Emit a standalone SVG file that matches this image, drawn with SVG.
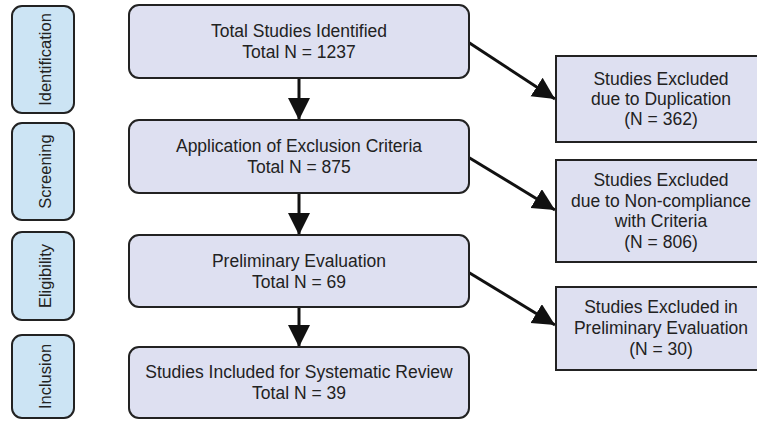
<svg xmlns="http://www.w3.org/2000/svg" width="757" height="422" viewBox="0 0 757 422">
<style>
.tab{fill:#cce4f4;stroke:#222;stroke-width:2}
.box{fill:#dee0f1;stroke:#222;stroke-width:2}
.t{font-family:"Liberation Sans",Arial,sans-serif;font-size:17.5px;fill:#222;text-anchor:middle}
.tt{font-family:"Liberation Sans",Arial,sans-serif;font-size:16.5px;fill:#222;text-anchor:middle}
.c{stroke:#111;stroke-width:3;fill:none;marker-end:url(#ah)}
</style>
<defs>
<marker id="ah" markerUnits="userSpaceOnUse" markerWidth="24" markerHeight="24" refX="22" refY="11" orient="auto">
<path d="M0,0 L22,11 L0,22 Z" fill="#111"/>
</marker>
</defs>
<rect width="757" height="422" fill="#fff"/>
<g id="tab-identification"><rect class="tab" x="12" y="6" width="62" height="107" rx="10"/><text class="tt" transform="translate(50.5,59.5) rotate(-90)">Identification</text></g>
<g id="tab-screening"><rect class="tab" x="12" y="123" width="62" height="97" rx="10"/><text class="tt" transform="translate(50.5,171.5) rotate(-90)">Screening</text></g>
<g id="tab-eligibility"><rect class="tab" x="12" y="232" width="62" height="88" rx="10"/><text class="tt" transform="translate(50.5,276) rotate(-90)">Eligibility</text></g>
<g id="tab-inclusion"><rect class="tab" x="12" y="335" width="62" height="83" rx="10"/><text class="tt" transform="translate(50.5,376.5) rotate(-90)">Inclusion</text></g>

<g id="connectors">
<line class="c" x1="299" y1="78" x2="299" y2="120"/>
<line class="c" x1="299" y1="193" x2="299" y2="235"/>
<line class="c" x1="299" y1="307" x2="299" y2="347"/>
<line class="c" x1="468" y1="42" x2="555" y2="99"/>
<line class="c" x1="468" y1="157" x2="555" y2="210"/>
<line class="c" x1="468" y1="272" x2="555" y2="325"/>
</g>

<g id="n-identified"><rect class="box" x="129" y="5" width="340" height="73" rx="10"/><text class="t" x="299" y="37">Total Studies Identified</text><text class="t" x="299" y="58">Total N = 1237</text></g>
<g id="n-exclusion"><rect class="box" x="129" y="120" width="340" height="73" rx="10"/><text class="t" x="299" y="152">Application of Exclusion Criteria</text><text class="t" x="299" y="173">Total N = 875</text></g>
<g id="n-preliminary"><rect class="box" x="129" y="235" width="340" height="72" rx="10"/><text class="t" x="299" y="266.5">Preliminary Evaluation</text><text class="t" x="299" y="287.5">Total N = 69</text></g>
<g id="n-included"><rect class="box" x="129" y="347" width="340" height="71" rx="10"/><text class="t" x="299" y="378">Studies Included for Systematic Review</text><text class="t" x="299" y="399">Total N = 39</text></g>

<g id="n-dup"><rect class="box" x="556" y="56" width="215" height="86"/><text class="t" x="661" y="85">Studies Excluded</text><text class="t" x="661" y="105">due to Duplication</text><text class="t" x="661" y="125">(N = 362)</text></g>
<g id="n-noncomp"><rect class="box" x="556" y="160" width="215" height="102"/><text class="t" x="661" y="186">Studies Excluded</text><text class="t" x="661" y="207">due to Non-compliance</text><text class="t" x="661" y="227">with Criteria</text><text class="t" x="661" y="248">(N = 806)</text></g>
<g id="n-prelimexcl"><rect class="box" x="556" y="287" width="215" height="83"/><text class="t" x="661" y="313">Studies Excluded in</text><text class="t" x="661" y="334">Preliminary Evaluation</text><text class="t" x="661" y="355">(N = 30)</text></g>
</svg>
